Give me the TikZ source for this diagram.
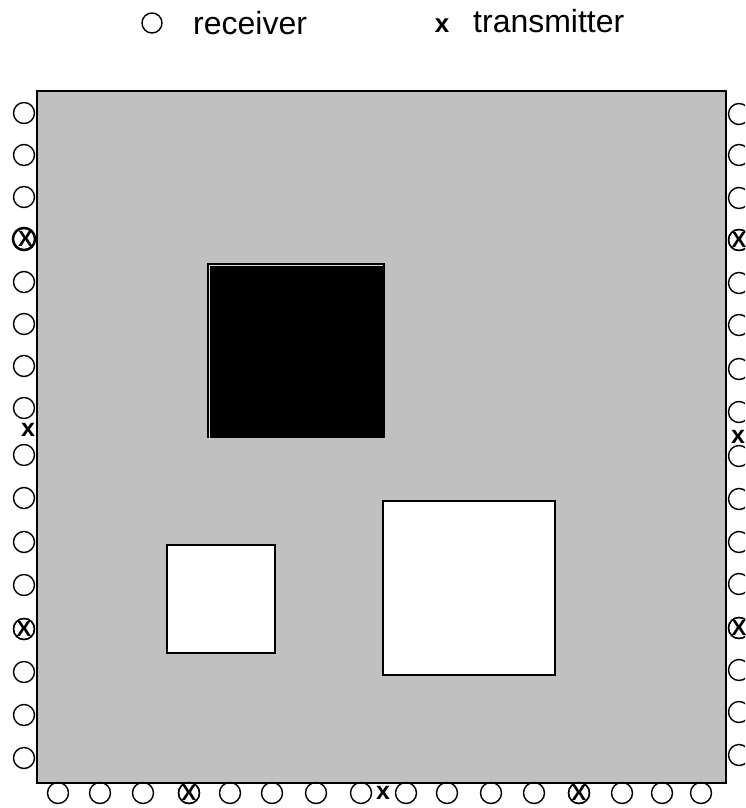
\documentclass[tikz,border=0pt]{standalone}
\usepackage{fontspec}
\setmainfont{Liberation Sans}
\definecolor{field}{HTML}{C0C0C0}
\begin{document}
\begin{tikzpicture}[x=1pt,y=-1pt,
  rx/.style={circle,draw=black,line width=1.4pt,minimum size=21pt,inner sep=0pt},
  tx/.style={inner sep=0pt,font=\fontsize{25}{25}\selectfont\bfseries},
  cx/.style={rx,font=\fontsize{22}{22}\selectfont\bfseries},
  obst/.style={draw=black,line width=2pt},
  lbl/.style={anchor=base west,inner sep=0pt,font=\fontsize{32}{32}\selectfont}]
\useasboundingbox (0,0) rectangle (745,808);
\clip (0,0) rectangle (745,808);
% field
\node[fill=field,draw=black,line width=2pt,minimum width=689pt,minimum height=692pt,inner sep=0pt,anchor=north west] (field) at (36,90) {};
% obstacles
\node[obst,fill=black,minimum width=176pt,minimum height=173pt,inner sep=0pt,anchor=north west] (blk) at (207,263) {};
\draw[field!60!white,line width=1pt] ([xshift=2pt,yshift=-2pt]blk.south west) -- ([xshift=2pt,yshift=-2pt]blk.north west) -- ([xshift=-2pt,yshift=-2pt]blk.north east);
\node[obst,fill=white,minimum width=108pt,minimum height=108pt,inner sep=0pt,anchor=north west] (w1) at (166,544) {};
\node[obst,fill=white,minimum width=172pt,minimum height=174pt,inner sep=0pt,anchor=north west] (w2) at (382,500) {};
% legend
\node[rx,minimum size=20pt] (legrx) at (152,23) {};
\node[lbl] (legrxt) at (193,35) {receiver};
\node[tx,font=\fontsize{26}{26}\selectfont\bfseries,anchor=base] (legtx) at (442,33) {x};
\node[lbl] (legtxt) at (473,33) {transmitter};
% left side
\foreach \y [count=\i] in {113,155,197,239,282,324,366,408,455,498,542,585,629,672,715,758}{
  \node[rx] (L\i) at (24,\y) {};
}
\node[cx] at (L4) {\hspace{3pt}X};
\node[cx] at (L13) {X};
\node[tx] (Lx) at (28,430) {x};
% right side
\foreach \y [count=\i] in {114,155,198,240,283,325,369,412,456,499,542,584,628,670,712,755}{
  \node[rx] (R\i) at (739,\y) {};
}
\node[cx] at (R4) {X};
\node[cx] at (R13) {X};
\node[tx] (Rx) at (738,437) {x};
% bottom side
\foreach \x [count=\i] in {58,100,143,189,230,272,316,361,406,447,491,534,579,622,662,701}{
  \node[rx] (B\i) at (\x,793) {};
}
\node[cx] at (B4) {X};
\node[cx] at (B13) {X};
\node[tx] (Bx) at (383,793) {x};
\end{tikzpicture}
\end{document}
